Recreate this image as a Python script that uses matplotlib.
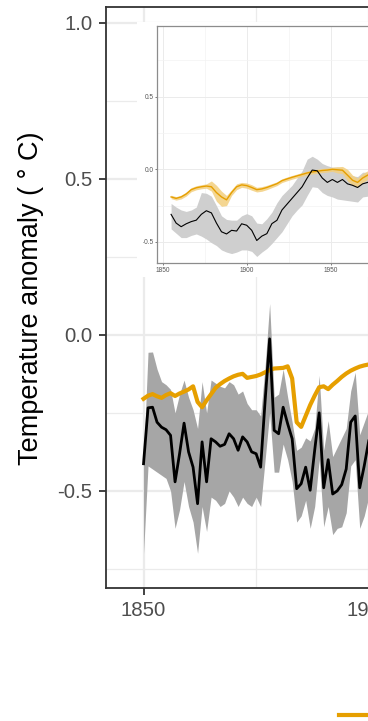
import matplotlib
matplotlib.use("Agg")
import matplotlib.pyplot as plt
from matplotlib.patches import Rectangle
import numpy as np

plt.rcParams['font.family'] = ['Liberation Sans', 'DejaVu Sans']

# annual series, main panel
years = list(range(1850, 1901))
obs = [-0.413, -0.234, -0.232, -0.280, -0.296, -0.304, -0.322, -0.471, -0.381, -0.283,
       -0.375, -0.424, -0.541, -0.343, -0.471, -0.333, -0.343, -0.357, -0.351, -0.317,
       -0.333, -0.370, -0.327, -0.343, -0.375, -0.381, -0.424, -0.210, -0.013, -0.306,
       -0.317, -0.232, -0.285, -0.333, -0.493, -0.477, -0.424, -0.498, -0.370, -0.250,
       -0.490, -0.400, -0.510, -0.500, -0.480, -0.430, -0.280, -0.260, -0.490, -0.420,
       -0.340]
obs_hi = [-0.400, -0.056, -0.055, -0.110, -0.150, -0.160, -0.175, -0.250, -0.190, -0.145,
          -0.200, -0.240, -0.300, -0.150, -0.250, -0.145, -0.155, -0.165, -0.170, -0.150,
          -0.160, -0.190, -0.180, -0.220, -0.240, -0.240, -0.260, -0.100, 0.100, -0.200,
          -0.190, -0.110, -0.200, -0.280, -0.370, -0.360, -0.330, -0.340, -0.300, -0.130,
          -0.370, -0.275, -0.390, -0.360, -0.330, -0.300, -0.180, -0.120, -0.320, -0.280,
          -0.240]
obs_lo = [-0.700, -0.420, -0.430, -0.440, -0.450, -0.460, -0.500, -0.620, -0.560, -0.470,
          -0.550, -0.600, -0.700, -0.550, -0.630, -0.520, -0.530, -0.550, -0.540, -0.500,
          -0.520, -0.550, -0.520, -0.540, -0.550, -0.520, -0.550, -0.400, -0.250, -0.440,
          -0.440, -0.350, -0.400, -0.470, -0.600, -0.580, -0.530, -0.620, -0.550, -0.400,
          -0.615, -0.550, -0.640, -0.620, -0.615, -0.570, -0.420, -0.400, -0.620, -0.580,
          -0.520]
sim = [-0.205, -0.195, -0.190, -0.197, -0.202, -0.193, -0.187, -0.196, -0.188, -0.182,
       -0.175, -0.165, -0.215, -0.232, -0.210, -0.190, -0.170, -0.158, -0.148, -0.140,
       -0.133, -0.128, -0.125, -0.138, -0.135, -0.132, -0.127, -0.120, -0.113, -0.108,
       -0.107, -0.106, -0.101, -0.140, -0.280, -0.295, -0.260, -0.225, -0.195, -0.168,
       -0.165, -0.174, -0.160, -0.148, -0.135, -0.124, -0.115, -0.108, -0.102, -0.098,
       -0.095]

# smoothed series, inset
in_years = list(range(1855, 1973, 3))
in_obs = [-0.310, -0.370, -0.395, -0.375, -0.360, -0.350, -0.310, -0.285, -0.300, -0.370,
          -0.430, -0.445, -0.420, -0.425, -0.375, -0.385, -0.420, -0.490, -0.460, -0.443,
          -0.374, -0.351, -0.280, -0.240, -0.200, -0.160, -0.120, -0.060, -0.005, -0.010,
          -0.060, -0.090, -0.070, -0.090, -0.070, -0.100, -0.110, -0.125, -0.100, -0.090]
in_obs_hi = [-0.235, -0.260, -0.280, -0.290, -0.280, -0.260, -0.160, -0.165, -0.185, -0.250,
             -0.320, -0.345, -0.350, -0.350, -0.320, -0.305, -0.320, -0.370, -0.375, -0.340,
             -0.295, -0.230, -0.180, -0.145, -0.110, -0.060, -0.010, 0.070, 0.090, 0.070,
             0.040, 0.025, 0.015, 0.015, 0.005, -0.030, -0.045, -0.050, -0.020, -0.020]
in_obs_lo = [-0.410, -0.440, -0.470, -0.470, -0.455, -0.445, -0.460, -0.480, -0.505, -0.525,
             -0.555, -0.570, -0.580, -0.570, -0.555, -0.555, -0.565, -0.600, -0.570, -0.545,
             -0.510, -0.470, -0.430, -0.375, -0.320, -0.280, -0.245, -0.180, -0.120, -0.125,
             -0.160, -0.180, -0.190, -0.205, -0.210, -0.215, -0.220, -0.225, -0.190, -0.185]
in_sim = [-0.190, -0.200, -0.190, -0.170, -0.140, -0.127, -0.120, -0.115, -0.120, -0.160,
          -0.190, -0.210, -0.160, -0.120, -0.107, -0.112, -0.125, -0.140, -0.135, -0.125,
          -0.112, -0.099, -0.078, -0.066, -0.055, -0.045, -0.035, -0.025, -0.018, -0.013,
          -0.008, -0.005, 0.000, -0.003, -0.006, -0.040, -0.075, -0.090, -0.060, -0.040]
in_sim_hi = [-0.178, -0.188, -0.178, -0.156, -0.126, -0.113, -0.106, -0.100, -0.080, -0.110,
             -0.150, -0.180, -0.140, -0.100, -0.090, -0.094, -0.106, -0.124, -0.119, -0.110,
             -0.098, -0.086, -0.065, -0.053, -0.042, -0.032, -0.022, -0.012, -0.004, 0.001,
             0.006, 0.009, 0.014, 0.018, 0.020, 0.000, -0.040, -0.060, -0.030, -0.010]
in_sim_lo = [-0.202, -0.212, -0.204, -0.184, -0.154, -0.141, -0.134, -0.130, -0.150, -0.220,
             -0.255, -0.250, -0.180, -0.140, -0.124, -0.130, -0.144, -0.156, -0.151, -0.140,
             -0.126, -0.112, -0.091, -0.079, -0.068, -0.058, -0.048, -0.038, -0.032, -0.027,
             -0.022, -0.019, -0.014, -0.025, -0.030, -0.080, -0.110, -0.120, -0.090, -0.070]

orange = '#E69F00'
W, H = 368, 721
fig = plt.figure(figsize=(W / 100, H / 100), dpi=100)

# main panel (runs off the right edge like the reference crop)
ax = fig.add_axes([105.7 / W, 1 - 588.3 / H, 826 / W, 581 / H])
ax.fill_between(years, obs_lo, obs_hi, color='#A6A6A6', lw=0, zorder=2)
ax.plot(years, sim, color=orange, lw=3.0, zorder=3, solid_joinstyle='round')
ax.plot(years, obs, color='black', lw=2.0, zorder=4, solid_joinstyle='round')
ax.set_xlim(1841.6, 2025)
ax.set_ylim(-0.812, 1.049)
ax.set_xticks([1850, 1900, 1950, 2000])
ax.set_xticks([1875, 1925, 1975, 2025], minor=True)
ax.set_yticks([-0.5, 0.0, 0.5, 1.0])
ax.set_yticks([-0.75, -0.25, 0.25, 0.75], minor=True)
ax.set_yticklabels(['-0.5', '0.0', '0.5', '1.0'])
ax.grid(which='major', color='#EBEBEB', lw=1.6, zorder=0)
ax.grid(which='minor', color='#EBEBEB', lw=0.9, zorder=0)
ax.set_axisbelow(True)
for s in ax.spines.values():
    s.set_color('#333333')
    s.set_linewidth(1.3)
ax.tick_params(which='major', length=5, width=1.3, color='#333333',
               labelcolor='#4D4D4D', labelsize=14.7, pad=4.5)
ax.tick_params(which='minor', length=0)

fig.text(31 / W, 1 - 298 / H, 'Temperature anomaly ( \u00b0 C)', rotation=90,
         ha='center', va='center', fontsize=19.5, color='black')

# white plate behind the inset
fig.patches.append(Rectangle((137 / W, 1 - 277 / H), 1.0, 255 / H,
                             transform=fig.transFigure, facecolor='white',
                             edgecolor='none', zorder=1))

# inset
ins = fig.add_axes([157.3 / W, 1 - 263 / H, 299.4 / W, 237 / H], zorder=2)
ins.fill_between(in_years, in_obs_lo, in_obs_hi, color='#CFCFCF', lw=0, zorder=2)
ins.fill_between(in_years, in_sim_lo, in_sim_hi, color='#F3CF7F', alpha=0.85, lw=0, zorder=2)
ins.plot(in_years, in_sim, color=orange, lw=1.0, zorder=3)
ins.plot(in_years, in_obs, color='black', lw=0.8, zorder=4)
ins.set_xlim(1846.8, 2025)
ins.set_ylim(-0.645, 0.987)
ins.set_xticks([1850, 1900, 1950, 2000])
ins.set_xticks([1875, 1925, 1975], minor=True)
ins.set_yticks([-0.5, 0.0, 0.5])
ins.set_yticks([-0.25, 0.25, 0.75], minor=True)
ins.set_yticklabels(['-0.5', '0.0', '0.5'])
ins.grid(which='major', color='#EBEBEB', lw=0.7, zorder=0)
ins.grid(which='minor', color='#F3F3F3', lw=0.5, zorder=0)
ins.set_axisbelow(True)
for s in ins.spines.values():
    s.set_color('#8C8C8C')
    s.set_linewidth(0.9)
ins.tick_params(which='major', length=1.5, width=0.6, color='#666666',
                labelcolor='#555555', labelsize=4.7, pad=1.2)
ins.tick_params(which='minor', length=0)

# legend below the panel, only its first key falls inside the crop
fig.legend([ax.lines[0], ax.lines[1]], ['Simulated', 'Observed'],
           loc='center left', bbox_to_anchor=(339 / W, 4.5 / H), ncol=2,
           frameon=False, borderpad=0, borderaxespad=0, handlelength=1.7,
           fontsize=14.7)

fig.savefig('out.png', dpi=100)
